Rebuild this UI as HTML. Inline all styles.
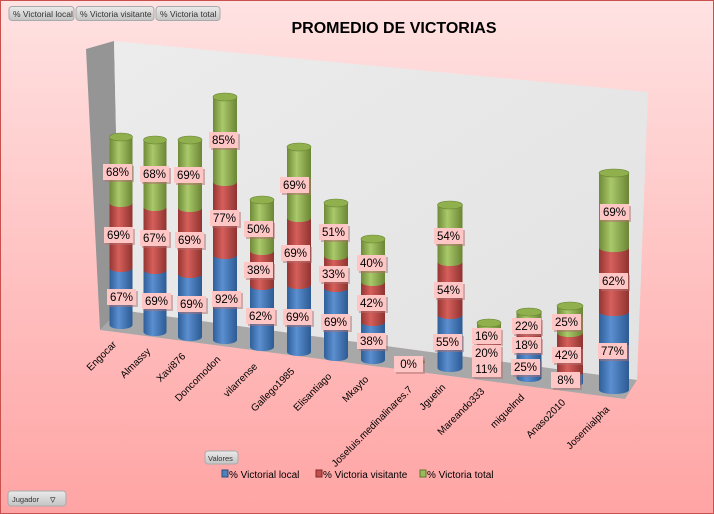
<!DOCTYPE html>
<html><head><meta charset="utf-8"><style>
html,body{margin:0;padding:0;}
body{width:714px;height:514px;overflow:hidden;}
svg{display:block;font-family:"Liberation Sans",sans-serif;}
</style></head><body>
<svg width="714" height="514" viewBox="0 0 714 514" xmlns="http://www.w3.org/2000/svg">
<defs>
<linearGradient id="bg" x1="0" y1="0" x2="0" y2="1"><stop offset="0" stop-color="#ffe2e2"/><stop offset="1" stop-color="#ffa4a4"/></linearGradient>
<linearGradient id="wall" x1="0" y1="0" x2="1" y2="1"><stop offset="0" stop-color="#ececec"/><stop offset="1" stop-color="#e2e2e2"/></linearGradient>
<linearGradient id="gb" x1="0" x2="1"><stop offset="0" stop-color="#2f5f9a"/><stop offset="0.4" stop-color="#5b8fd0"/><stop offset="1" stop-color="#2c5a93"/></linearGradient>
<linearGradient id="gr" x1="0" x2="1"><stop offset="0" stop-color="#953532"/><stop offset="0.4" stop-color="#d65f5b"/><stop offset="1" stop-color="#8f3330"/></linearGradient>
<linearGradient id="gg" x1="0" x2="1"><stop offset="0" stop-color="#6f8a37"/><stop offset="0.4" stop-color="#a9c96a"/><stop offset="1" stop-color="#6b8534"/></linearGradient>
<linearGradient id="btn" x1="0" y1="0" x2="0" y2="1"><stop offset="0" stop-color="#eaeaea"/><stop offset="1" stop-color="#c4c4c4"/></linearGradient>
</defs>
<rect x="0.5" y="0.5" width="713" height="513" fill="url(#bg)" stroke="#c9504d"/>
<polygon points="86,49 114,41 120,310 100,330" fill="#959595"/>
<polygon points="114,41 648,92 637,380 120,310" fill="url(#wall)"/>
<polygon points="100,330 120,310 637,380 625,399" fill="#a8a8a8"/>
<text x="394" y="33" font-size="16" font-weight="bold" text-anchor="middle" fill="#000">PROMEDIO DE VICTORIAS</text>
<g id="bars"></g>
<g id="labels" font-size="11.5" text-anchor="middle"></g>
<g id="xl" font-size="10" fill="#000"></g>
<g font-size="8.5" fill="#333">
<rect x="9" y="6.5" width="65" height="14" rx="3" fill="url(#btn)" stroke="#aaa"/><text x="13" y="17">% Victorial local</text>
<rect x="76" y="6.5" width="78" height="14" rx="3" fill="url(#btn)" stroke="#aaa"/><text x="80" y="17">% Victoria visitante</text>
<rect x="156" y="6.5" width="64" height="14" rx="3" fill="url(#btn)" stroke="#aaa"/><text x="160" y="17">% Victoria total</text>
<rect x="205" y="451" width="33" height="13" rx="3" fill="url(#btn)" stroke="#aaa"/><text x="208" y="461" font-size="7.5">Valores</text>
<rect x="8" y="491" width="58" height="15" rx="3" fill="url(#btn)" stroke="#aaa"/><text x="12" y="502" font-size="7.5">Jugador</text>
<text x="50" y="503" font-size="11">▿</text>
</g>
<g font-size="10" fill="#000">
<rect x="222" y="470" width="6" height="7" fill="#4f81bd" stroke="#2c4d75"/><text x="229" y="478">% Victorial local</text>
<rect x="316" y="470" width="6" height="7" fill="#c0504d" stroke="#7f2a28"/><text x="323" y="478">% Victoria visitante</text>
<rect x="420" y="470" width="6" height="7" fill="#9bbb59" stroke="#5e7530"/><text x="427" y="478">% Victoria total</text>
</g>
<script>
var bars=[
["Engocar",121,23,137,203,268,325,[[117,172,"68%"],[118,235,"69%"],[121,297,"67%"]]],
["Almassy",155,23,140,207,270,332,[[154,174,"68%"],[154,238,"67%"],[156,301,"69%"]]],
["Xavi876",190,24,140,208,274,337,[[188,175,"69%"],[189,240,"69%"],[191,304,"69%"]]],
["Doncomodon",225,24,97,182,255,340,[[223,140,"85%"],[224,218,"77%"],[226,299,"92%"]]],
["vilarrense",262,24,200,251,286,347,[[258,229,"50%"],[258,270,"38%"],[260,316,"62%"]]],
["Gallego1985",299,24,147,218,285,352,[[294,185,"69%"],[295,253,"69%"],[297,317,"69%"]]],
["Elisantiago",336,24,203,256,288,357,[[333,232,"51%"],[333,274,"33%"],[335,322,"69%"]]],
["Mkayto",373,24,239,282,322,360,[[371,263,"40%"],[371,303,"42%"],[371,341,"38%"]]],
["Joseluis.medinalinares.7",417,22,362,362,362,362,[[408,364,"0%"]]],
["Jguetin",450,25,205,262,315,368,[[448,236,"54%"],[448,290,"54%"],[447,342,"55%"]]],
["Mareando333",489,24,323,333,355,372,[[486,336,"16%"],[486,353,"20%"],[486,369,"11%"]]],
["miguelmd",529,25,312,325,348,378,[[526,326,"22%"],[526,345,"18%"],[525,367,"25%"]]],
["Anaso2010",570,26,306,333,373,383,[[566,322,"25%"],[566,355,"42%"],[565,380,"8%"]]],
["Josemialpha",614,30,173,248,312,390,[[614,212,"69%"],[613,281,"62%"],[612,351,"77%"]]]];
var NS="http://www.w3.org/2000/svg";
function el(p,t,a,tx){var e=document.createElementNS(NS,t);for(var k in a)e.setAttribute(k,a[k]);if(tx!==undefined)e.textContent=tx;p.appendChild(e);return e;}
var B=document.getElementById("bars"),L=document.getElementById("labels"),X=document.getElementById("xl");
bars.forEach(function(b){
 var c=b[1],w=b[2],x=c-w/2,ry=4;
 var segs=[[b[5],b[6],"url(#gb)"],[b[4],b[5],"url(#gr)"],[b[3],b[4],"url(#gg)"]];
 if(b[3]==b[6]){el(B,"ellipse",{cx:c,cy:b[6],rx:8,ry:3,fill:"#6b8534"});}
 else segs.forEach(function(s){
  if(s[1]-s[0]<=0)return;
  el(B,"path",{d:"M"+x+","+s[0]+" L"+x+","+s[1]+" A"+(w/2)+","+ry+" 0 0 0 "+(x+w)+","+s[1]+" L"+(x+w)+","+s[0]+" Z",fill:s[2]});
 });
 if(b[3]!=b[6]) el(B,"ellipse",{cx:c,cy:b[3],rx:w/2,ry:ry,fill:"#8fb04d",stroke:"#6b8534","stroke-width":0.6});
 b[7].forEach(function(l){
  el(L,"rect",{x:l[0]-14+2,y:l[1]-8+2,width:29,height:16,fill:"#b07070",opacity:0.5});
  el(L,"rect",{x:l[0]-14,y:l[1]-8,width:29,height:16,fill:"#ffc6c6"});
  el(L,"text",{x:l[0]+0.5,y:l[1]+4,fill:"#000"},l[2]);
 });
 var tx=c-4,ty=(b[3]==b[6]?b[6]+8:b[6])+20;
 el(X,"text",{x:tx,y:ty,"text-anchor":"end",transform:"rotate(-45 "+tx+" "+ty+")"},b[0]);
});
</script>
</svg>
</body></html>
